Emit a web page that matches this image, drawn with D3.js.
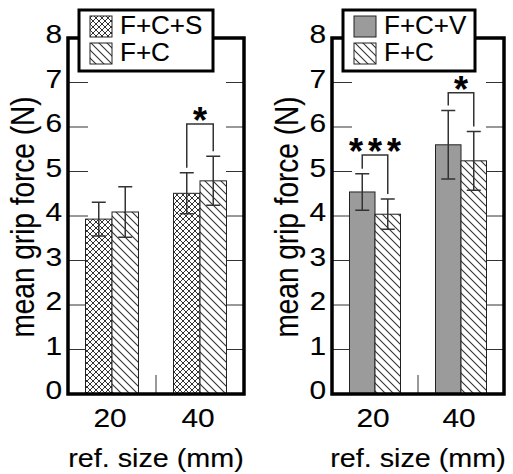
<!DOCTYPE html>
<html><head><meta charset="utf-8">
<script src="https://cdn.jsdelivr.net/npm/d3@7"></script>
<style>body{margin:0;background:#fff}svg{display:block}text{font-family:"Liberation Sans",Arial,sans-serif;fill:#000;stroke:#000;stroke-width:0.12}</style>
</head><body><svg id="c" width="513" height="474"></svg>
<script>
// ---- data ----
const categories = ["20", "40"];
const yTicks = [0, 1, 2, 3, 4, 5, 6, 7, 8];
const leftSeries = ["F+C+S", "F+C"];
const leftMeans = { "F+C+S": [3.93, 4.51], "F+C": [4.09, 4.79] };
const leftErrs  = { "F+C+S": [0.38, 0.46], "F+C": [0.57, 0.55] };
const leftSig = [{ cat: "40", y: 6.07, label: "*" }];
const rightSeries = ["F+C+V", "F+C"];
const rightMeans = { "F+C+V": [4.54, 5.60], "F+C": [4.04, 5.24] };
const rightErrs  = { "F+C+V": [0.41, 0.77], "F+C": [0.34, 0.66] };
const rightSig = [{ cat: "20", y: 5.37, label: "***" }, { cat: "40", y: 6.77, label: "*" }];
const yTitle = "mean grip force (N)";
const xTitle = "ref. size (mm)";

const svg = d3.select("#c");
const defs = svg.append("defs");
// hatch "\\\"
const ph = defs.append("pattern").attr("id", "hatch").attr("patternUnits", "userSpaceOnUse")
  .attr("width", 8).attr("height", 8);
ph.append("rect").attr("width", 8).attr("height", 8).attr("fill", "#fff");
ph.append("path").attr("d", "M-1,-1L9,9M-1,7L1,9M7,-1L9,1").attr("stroke", "#333").attr("stroke-width", 1.1);
// crosshatch
const pc = defs.append("pattern").attr("id", "cross").attr("patternUnits", "userSpaceOnUse")
  .attr("width", 6).attr("height", 6);
pc.append("rect").attr("width", 6).attr("height", 6).attr("fill", "#fff");
pc.append("path").attr("d", "M-1,-1L7,7M-1,5L1,7M5,-1L7,1M-1,7L7,-1M-1,1L1,-1M5,7L7,5").attr("stroke", "#333").attr("stroke-width", 1);

const fills = { "F+C+S": "url(#cross)", "F+C": "url(#hatch)", "F+C+V": "#9b9b9b" };

const y = d3.scaleLinear().domain([0, 8]).range([394, 38]);

function panel(opt) {
  const g = svg.append("g");
  const x = d3.scaleBand().domain(categories).range([opt.x0, opt.x1]);
  const bw = x.bandwidth();
  const xs = d3.scaleBand().domain(opt.series).range([bw / 2 - opt.barW, bw / 2 + opt.barW]);
  // ticks inside
  yTicks.slice(1, -1).forEach(t => {
    g.append("line").attr("x1", opt.x0).attr("x2", opt.x0 + 20).attr("y1", y(t)).attr("y2", y(t))
      .attr("stroke", "#333").attr("stroke-width", 1);
    g.append("line").attr("x1", opt.x1 - 18).attr("x2", opt.x1).attr("y1", y(t)).attr("y2", y(t))
      .attr("stroke", "#333").attr("stroke-width", 1);
  });
  // middle tick
  g.append("line").attr("x1", opt.x0 + bw).attr("x2", opt.x0 + bw).attr("y1", y(0)).attr("y2", y(0) - 19)
    .attr("stroke", "#333").attr("stroke-width", 1);
  // bars
  opt.series.forEach(s => {
    categories.forEach((c, i) => {
      const v = opt.means[s][i];
      g.append("rect").attr("x", x(c) + xs(s)).attr("width", xs.bandwidth())
        .attr("y", y(v)).attr("height", y(0) - y(v))
        .attr("fill", fills[s]).attr("stroke", "#222").attr("stroke-width", 1);
    });
  });
  // error bars
  opt.series.forEach(s => {
    categories.forEach((c, i) => {
      const v = opt.means[s][i], e = opt.errs[s][i];
      const cx = x(c) + xs(s) + xs.bandwidth() / 2;
      g.append("path").attr("d", `M${cx},${y(v + e)}V${y(v - e)}M${cx - 7},${y(v + e)}H${cx + 7}M${cx - 7},${y(v - e)}H${cx + 7}`)
        .attr("stroke", "#333").attr("stroke-width", 1.5).attr("fill", "none");
    });
  });
  // significance brackets
  opt.sig.forEach(sg => {
    const i = categories.indexOf(sg.cat);
    const [a, b] = opt.series;
    const xa = x(sg.cat) + xs(a) + xs.bandwidth() / 2;
    const xb = x(sg.cat) + xs(b) + xs.bandwidth() / 2;
    const ya = y(opt.means[a][i] + opt.errs[a][i]) - 5;
    const yb = y(opt.means[b][i] + opt.errs[b][i]) - 5;
    g.append("path").attr("d", `M${xa},${ya}V${y(sg.y)}H${xb}V${yb}`)
      .attr("stroke", "#333").attr("stroke-width", 1.5).attr("fill", "none");
    const n = sg.label.length, cxm = (xa + xb) / 2;
    for (let k = 0; k < n; k++) {
      g.append("text").attr("x", cxm + (k - (n - 1) / 2) * 19).attr("y", y(sg.y) + 9)
        .attr("text-anchor", "middle").attr("font-size", 36).attr("font-weight", "bold").text("*");
    }
  });
  // frame
  g.append("rect").attr("x", opt.x0).attr("y", y(8)).attr("width", opt.x1 - opt.x0).attr("height", y(0) - y(8))
    .attr("fill", "none").attr("stroke", "#000").attr("stroke-width", 3.5);
  // y tick labels
  yTicks.forEach(t => {
    g.append("text").attr("transform", `translate(${opt.x0 - 6},${y(t) + 5}) scale(1.15,1)`)
      .attr("text-anchor", "end").attr("font-size", 26).text(t);
  });
  // x tick labels
  categories.forEach(c => {
    g.append("text").attr("transform", `translate(${x(c) + bw / 2 - 2},427) scale(1.15,1)`)
      .attr("text-anchor", "middle").attr("font-size", 26).text(c);
  });
  // titles
  g.append("text").attr("transform", `translate(${(opt.x0 + opt.x1) / 2},467) scale(1.15,1)`)
    .attr("text-anchor", "middle").attr("font-size", 25).text(xTitle);
  g.append("text").attr("transform", `translate(${opt.yTitleX},217) scale(1.2,1) rotate(-90)`)
    .attr("text-anchor", "middle").attr("font-size", 28).text(yTitle);
  // legend
  const lg = g.append("g");
  lg.append("rect").attr("x", opt.lx0).attr("y", 10).attr("width", opt.lx1 - opt.lx0).attr("height", 61)
    .attr("fill", "#fff").attr("stroke", "#000").attr("stroke-width", 3);
  opt.series.forEach((s, k) => {
    const yy = 16 + k * 27;
    lg.append("rect").attr("x", opt.lx0 + 11).attr("y", yy).attr("width", 22).attr("height", 21)
      .attr("fill", fills[s]).attr("stroke", "#222").attr("stroke-width", 1);
    lg.append("text").attr("x", opt.lx0 + 41).attr("y", yy + 18).attr("font-size", 26).text(s);
  });
}

panel({ x0: 68, x1: 244, barW: 26.5, series: leftSeries, means: leftMeans, errs: leftErrs, sig: leftSig,
  yTitleX: 34, lx0: 79, lx1: 213 });
panel({ x0: 332, x1: 504, barW: 25.5, series: rightSeries, means: rightMeans, errs: rightErrs, sig: rightSig,
  yTitleX: 298, lx0: 343, lx1: 475 });
</script></body></html>
